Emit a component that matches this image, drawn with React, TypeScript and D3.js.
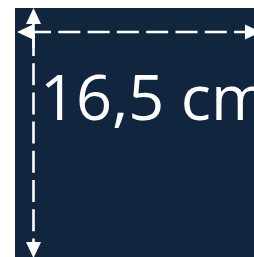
import React from "react";
import * as d3 from "d3";

const W = 254;
const H = 257;
const sizeLabels = ["16,5 cm"];
const dimensionsCm = [16.5];

const BG = "#12253f";

function arrowHead(tipX: number, tipY: number, dir: "left" | "right" | "up" | "down", len: number, half: number) {
  const p = d3.path();
  if (dir === "left") {
    p.moveTo(tipX, tipY); p.lineTo(tipX + len, tipY - half); p.lineTo(tipX + len, tipY + half);
  } else if (dir === "right") {
    p.moveTo(tipX, tipY); p.lineTo(tipX - len, tipY - half); p.lineTo(tipX - len, tipY + half);
  } else if (dir === "up") {
    p.moveTo(tipX, tipY); p.lineTo(tipX - half, tipY + len); p.lineTo(tipX + half, tipY + len);
  } else {
    p.moveTo(tipX, tipY); p.lineTo(tipX - half, tipY - len); p.lineTo(tipX + half, tipY - len);
  }
  p.closePath();
  return p.toString();
}

export default function App() {
  const x = d3.scaleLinear().domain([0, dimensionsCm[0]]).range([17, 261]);
  const y = d3.scaleLinear().domain([0, dimensionsCm[0]]).range([8, 258]);
  const lineY = 32;
  const lineX = 33.5;
  const headLen = 16;
  const headHalf = 7.5;
  return (
    <svg
      width={W}
      height={H}
      style={{ position: "fixed", left: 0, top: 0, display: "block" }}
    >
      <rect x={0} y={0} width={W} height={H} fill="#ffffff" />
      <rect x={15} y={8} width={W - 15} height={H - 8} fill={BG} />
      {/* horizontal dimension */}
      <line
        x1={x(0) + 12}
        x2={x(dimensionsCm[0]) - headLen}
        y1={lineY}
        y2={lineY}
        stroke="#ffffff"
        strokeWidth={2.6}
        strokeDasharray="22 7.3"
      />
      <path d={arrowHead(x(0), lineY, "left", headLen, headHalf)} fill="#ffffff" />
      <path d={arrowHead(x(dimensionsCm[0]), lineY, "right", headLen, headHalf)} fill="#ffffff" />
      {/* vertical dimension */}
      <line
        x1={lineX}
        x2={lineX}
        y1={y(0) + 14}
        y2={y(0) + 40}
        stroke="#ffffff"
        strokeWidth={2.6}
      />
      <line
        x1={lineX}
        x2={lineX}
        y1={y(0) + 26}
        y2={y(dimensionsCm[0]) - headLen}
        stroke="#ffffff"
        strokeWidth={2.6}
        strokeDasharray="22 7.2"
      />
      <path d={arrowHead(lineX, y(0), "up", headLen, headHalf)} fill="#ffffff" />
      <path d={arrowHead(lineX, y(dimensionsCm[0]), "down", headLen, headHalf)} fill="#ffffff" />
      <text
        x={40}
        y={120}
        fill="#ffffff"
        fontFamily="'Open Sans', sans-serif"
        fontSize={63}
      >
        {sizeLabels[0]}
      </text>
    </svg>
  );
}
